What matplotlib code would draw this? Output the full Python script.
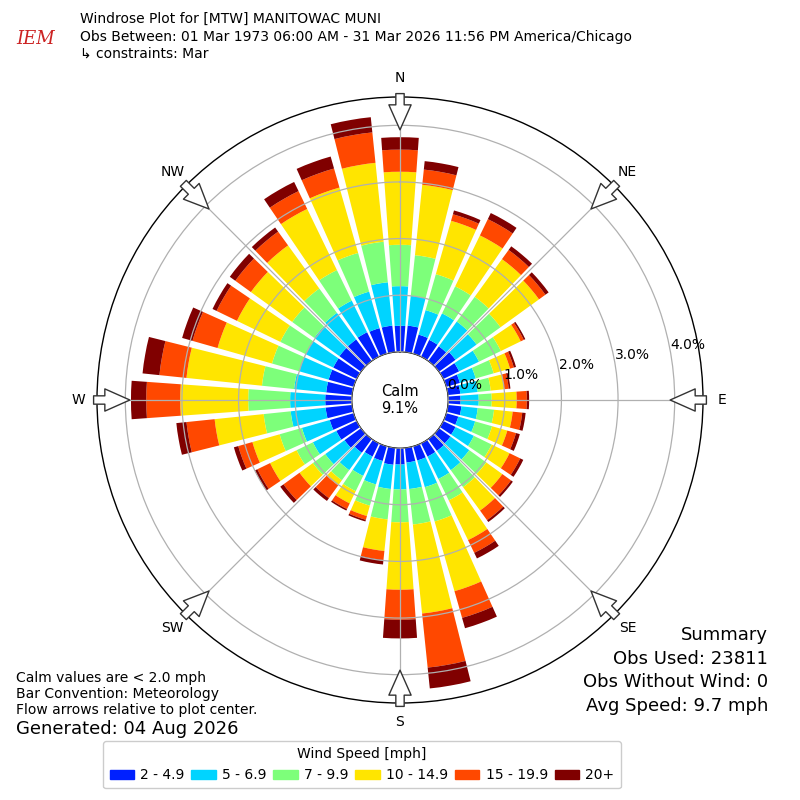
import matplotlib
matplotlib.use('Agg')
import matplotlib.pyplot as plt
import matplotlib.patches as mpatches
import numpy as np

# direction bins (deg, meteorological) and speed bins
directions = np.arange(0, 360, 10)
speed_labels = ['2 - 4.9', '5 - 6.9', '7 - 9.9', '10 - 14.9', '15 - 19.9', '20+']
speed_colors = ['#0020ff', '#00d4ff', '#7dff7a', '#ffe500', '#ff4800', '#800000']

# cumulative frequency [%] at top of each speed bin, one value per direction
cum_2 = [0.46, 0.47, 0.35, 0.33, 0.32, 0.36, 0.31, 0.25, 0.22, 0.22, 0.24, 0.22,
         0.24, 0.25, 0.26, 0.26, 0.26, 0.26, 0.29, 0.30, 0.27, 0.26, 0.30, 0.36,
         0.40, 0.44, 0.47, 0.47, 0.46, 0.46, 0.46, 0.47, 0.47, 0.48, 0.47, 0.47]
cum_5 = [1.16, 1.00, 0.80, 0.85, 0.86, 0.82, 0.70, 0.54, 0.53, 0.54, 0.53, 0.53,
         0.60, 0.66, 0.68, 0.70, 0.75, 0.73, 0.73, 0.73, 0.70, 0.64, 0.68, 0.78,
         0.86, 0.95, 1.09, 1.09, 1.03, 1.00, 1.00, 1.02, 1.05, 1.10, 1.14, 1.24]
cum_7 = [1.89, 1.72, 1.46, 1.38, 1.40, 1.34, 1.13, 0.87, 0.76, 0.77, 0.82, 0.84,
         0.95, 1.03, 1.05, 1.12, 1.38, 1.36, 1.31, 1.27, 1.09, 0.94, 0.90, 1.05,
         1.18, 1.36, 1.57, 1.83, 1.60, 1.50, 1.50, 1.50, 1.58, 1.70, 1.85, 1.96]
cum_10 = [3.18, 2.97, 2.44, 2.38, 2.22, 2.18, 1.52, 1.17, 1.00, 1.21, 1.15, 1.12,
          1.30, 1.38, 1.56, 1.90, 2.66, 2.94, 2.50, 1.83, 1.28, 1.18, 1.01, 1.34,
          1.70, 1.86, 2.44, 3.03, 2.94, 2.50, 2.35, 2.40, 2.52, 2.90, 3.05, 3.36]
cum_15 = [3.57, 3.24, 2.56, 2.70, 2.42, 2.32, 1.58, 1.24, 1.08, 1.39, 1.32, 1.28,
          1.51, 1.57, 1.77, 2.15, 3.15, 3.90, 3.03, 1.99, 1.35, 1.29, 1.29, 1.69,
          1.95, 2.12, 2.94, 3.63, 3.42, 2.96, 2.75, 2.74, 2.82, 3.25, 3.40, 3.90]
cum_20 = [3.79, 3.39, 2.63, 2.82, 2.50, 2.39, 1.61, 1.28, 1.11, 1.43, 1.38, 1.35,
          1.57, 1.61, 1.81, 2.26, 3.34, 4.27, 3.36, 2.07, 1.38, 1.32, 1.35, 1.76,
          2.00, 2.20, 3.12, 3.90, 3.72, 3.15, 2.83, 2.86, 2.91, 3.43, 3.62, 4.17]

calm_pct = 9.1
ring_values = [0, 1, 2, 3, 4]
compass = ['N', 'NE', 'E', 'SE', 'S', 'SW', 'W', 'NW']

fig = plt.figure(figsize=(8, 8), dpi=100)
ax = fig.add_axes([0.12125, 0.12125, 0.7575, 0.7575], projection='polar')
ax.set_theta_zero_location('N')
ax.set_theta_direction(-1)
ax.set_rorigin(-0.85)
ax.set_ylim(0, 4.5)

theta = np.deg2rad(directions)
width = np.deg2rad(8.2)
cums = [cum_2, cum_5, cum_7, cum_10, cum_15, cum_20]
bottom = np.zeros(len(directions))
for cum, col in zip(cums, speed_colors):
    top = np.array(cum)
    ax.bar(theta, top - bottom, width=width, bottom=bottom, color=col,
           edgecolor='none', zorder=2)
    bottom = top

ax.set_axisbelow(False)
ax.set_rgrids(ring_values, labels=['%.1f%%' % v for v in ring_values], angle=80,
              fontsize=10)
ax.set_thetagrids(np.arange(0, 360, 45), labels=compass, fontsize=10)
ax.tick_params(axis='x', pad=3)
ax.grid(True, color='#b0b0b0', lw=0.9, zorder=3)
for gl in ax.xaxis.get_gridlines() + ax.yaxis.get_gridlines():
    gl.set_zorder(3)
ax.spines['polar'].set_linewidth(1.0)

# hollow flow arrows pointing at the centre
for d in np.arange(0, 360, 45):
    t = np.deg2rad(d)
    ax.annotate('', xy=(t, 3.92), xytext=(t, 4.56), annotation_clip=False,
                arrowprops=dict(arrowstyle='simple,head_length=0.9,head_width=0.8,tail_width=0.3',
                                fc='white', ec='#333333', lw=1.0, shrinkA=0, shrinkB=0,
                                mutation_scale=20), zorder=5)

ax.text(0, -0.85, 'Calm\n%.1f%%' % calm_pct, ha='center', va='center',
        fontsize=10.5, zorder=6)

# header
fig.text(0.02, 0.945, 'IEM', color='#cc2222', fontsize=13, style='italic',
         family='DejaVu Serif')
fig.text(0.1, 0.976, 'Windrose Plot for [MTW] MANITOWAC MUNI', fontsize=10, va='center')
fig.text(0.1, 0.954, 'Obs Between: 01 Mar 1973 06:00 AM - 31 Mar 2026 11:56 PM America/Chicago',
         fontsize=10, va='center')
fig.text(0.1, 0.933, '\u21b3 constraints: Mar', fontsize=10, va='center')

# footer notes
fig.text(0.02, 0.152, 'Calm values are < 2.0 mph', fontsize=10, va='center')
fig.text(0.02, 0.132, 'Bar Convention: Meteorology', fontsize=10, va='center')
fig.text(0.02, 0.112, 'Flow arrows relative to plot center.', fontsize=10, va='center')
fig.text(0.02, 0.089, 'Generated: 04 Aug 2026', fontsize=13, va='center')

summary = ['Summary', 'Obs Used: 23811', 'Obs Without Wind: 0', 'Avg Speed: 9.7 mph']
for i, line in enumerate(summary):
    fig.text(0.96, 0.206 - i * 0.0295, line, fontsize=13, ha='right', va='center')

handles = [mpatches.Patch(color=c, label=l) for c, l in zip(speed_colors, speed_labels)]
fig.legend(handles=handles, title='Wind Speed [mph]', ncol=6, loc='upper center',
           bbox_to_anchor=(0.4525, 0.0825), fontsize=10, title_fontsize=10,
           handlelength=1.75, handleheight=0.6, handletextpad=0.45,
           columnspacing=0.5, borderpad=0.45, framealpha=1)

fig.savefig('out.png', dpi=100)
